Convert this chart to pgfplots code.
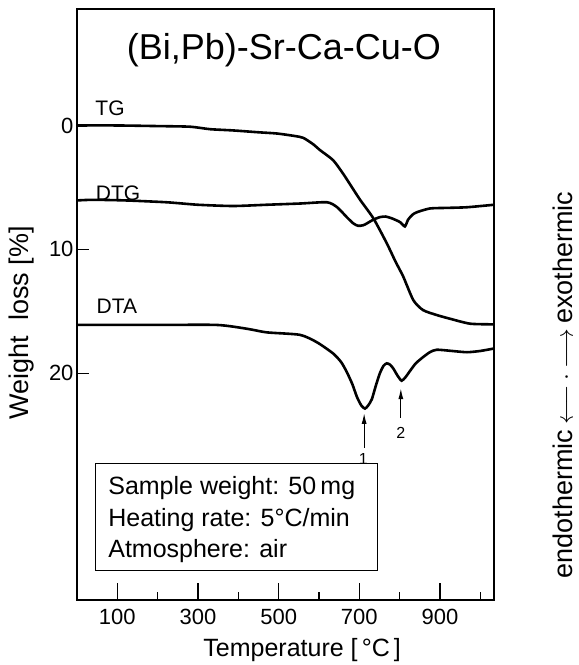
\documentclass[border=0pt]{standalone}
\usepackage{fontspec}
\setmainfont{Liberation Sans}
\usepackage{pgfplots}
\pgfplotsset{compat=1.18}
\usetikzlibrary{arrows.meta,calc}
\newcommand{\fs}[1]{\fontsize{#1bp}{#1bp}\selectfont}
\begin{document}
\begin{tikzpicture}
\begin{axis}[
  width=417bp, height=591bp, scale only axis,
  xmin=0, xmax=1034, ymin=-9.4, ymax=38.3,
  y dir=reverse,
  clip=false,
  axis line style={line width=1.3bp},
  xtick={100,300,500,700,900},
  minor xtick={200,400,600,800,1000},
  ytick={0,10,20},
  xtick pos=bottom, ytick pos=left,
  tick align=inside,
  major tick length=17bp, minor tick length=8bp,
  ytick style={/pgfplots/major tick length=12bp},
  tick style={line width=1.3bp, black},
  /pgf/number format/assume math mode=true,
  ticklabel style={font=\fs{22}},
  xticklabel style={yshift=-6bp},
]
\addplot[black, line width=2.6bp, smooth, tension=0.4] coordinates {
(0,0) (100,0) (200,0.05) (280,0.1) (330,0.3) (387,0.4) (450,0.55) (496,0.65) (540,0.85) (561,1.0) (585,1.5) (603,2.0) (635,2.8) (660,3.9) (680,4.9) (702,6.0) (735,7.5) (768,9.5) (790,11.0) (809,12.2) (834,14.1) (858,14.9) (892,15.3) (925,15.6) (975,16.0) (1034,16.05)
};
\addplot[black, line width=2.6bp, smooth, tension=0.4] coordinates {
(0,6.05) (40,6.0) (120,6.05) (223,6.2) (300,6.4) (387,6.5) (470,6.4) (553,6.3) (620,6.2) (645,6.6) (669,7.4) (685,7.9) (697,8.1) (710,8.05) (719,7.9) (735,7.6) (751,7.4) (765,7.35) (781,7.5) (801,7.8) (813,8.15) (821,7.6) (832,7.2) (843,7.0) (875,6.7) (920,6.65) (967,6.6) (1034,6.4)
};
\addplot[black, line width=2.6bp, smooth, tension=0.4] coordinates {
(0,16.1) (200,16.1) (347,16.1) (420,16.4) (471,16.7) (553,16.9) (595,17.5) (635,18.4) (655,19.1) (669,19.9) (683,20.9) (694,21.9) (705,22.6) (714,22.85) (722,22.6) (731,22.1) (741,21.0) (751,20.0) (760,19.4) (768,19.2) (776,19.3) (784,19.6) (795,20.2) (805,20.6) (815,20.3) (826,19.8) (840,19.2) (858,18.7) (875,18.3) (892,18.1) (930,18.2) (967,18.3) (1000,18.2) (1034,18.0)
};
% title and curve labels
\node[font=\fs{36}] at (axis cs:513,-6.05) {(Bi,Pb)-Sr-Ca-Cu-O};
\node[font=\fs{21}] at (axis cs:82,-1.37) {TG};
\node[font=\fs{21}] at (axis cs:102,5.48) {DTG};
\node[font=\fs{21}] at (axis cs:99,14.6) {DTA};
% arrows
\draw[-{Latex[length=11bp,width=5bp]}, line width=1.2bp] (axis cs:712,26.0) -- (axis cs:712,23.2);
\node[font=\fs{16}] at (axis cs:710,26.9) {1};
\draw[-{Latex[length=11bp,width=5bp]}, line width=1.2bp] (axis cs:803,23.6) -- (axis cs:803,21.2);
\node[font=\fs{16}] at (axis cs:803,24.8) {2};
% box
\draw[line width=1bp] (axis cs:45,27.3) rectangle (axis cs:746,35.9);
\node[font=\fs{25}, anchor=base west] at (axis cs:69,29.8) {Sample weight: 50\,mg};
\node[font=\fs{25}, anchor=base west] at (axis cs:69,32.4) {Heating rate: 5°C/min};
\node[font=\fs{25}, anchor=base west] at (axis cs:69,34.9) {Atmosphere: air};
% axis labels
\node[font=\fs{27}, rotate=90] at (axis description cs:-0.132,0.469) {Weight\ \ loss [\%]};
\node[font=\fs{25}] at (axis description cs:0.54,-0.0846) {Temperature [\,°C\,]};
\node[font=\fs{27}, rotate=90, anchor=base, inner sep=0pt] at (axis description cs:1.1894,0.364) {endothermic\,$\longleftarrow$\hspace{5bp}$\cdot$\hspace{5bp}$\longrightarrow$\,exothermic};
\coordinate (ll) at (axis description cs:0,0);
\coordinate (ur) at (axis description cs:1,1);
\end{axis}
\pgfresetboundingbox
\path ($(ll)+(-77bp,-65bp)$) rectangle ($(ur)+(85bp,9bp)$);
\end{tikzpicture}
\end{document}
